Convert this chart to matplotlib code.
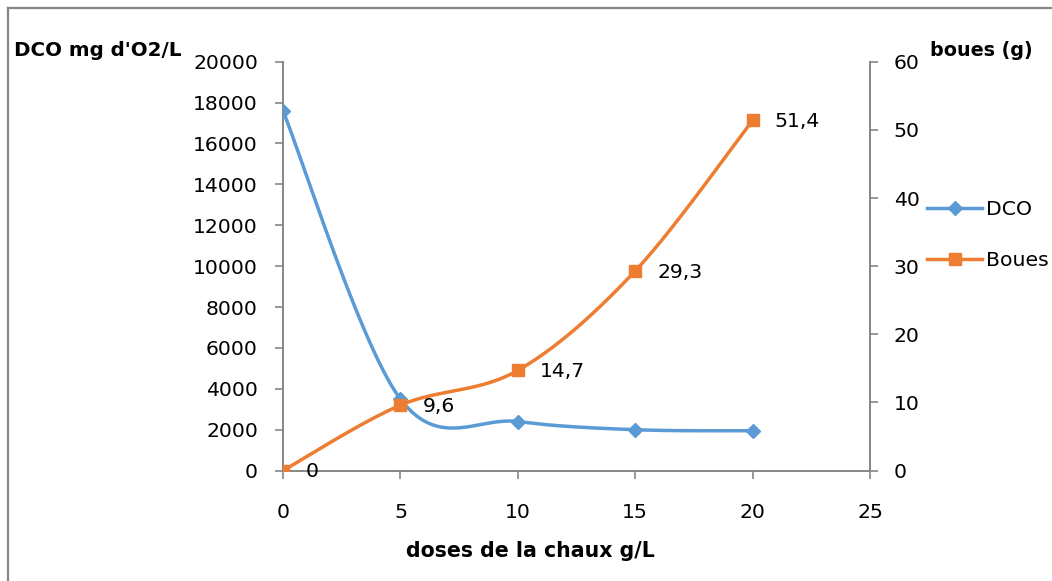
import numpy as np
import matplotlib
matplotlib.use("Agg")
import matplotlib.pyplot as plt
from matplotlib.lines import Line2D

plt.rcParams['font.family'] = ['DejaVu Sans']

# Data
doses = [0, 5, 10, 15, 20]
dco = [17600, 3500, 2400, 2000, 1950]
boues = [0, 9.6, 14.7, 29.3, 51.4]
boues_labels = ["0", "9,6", "14,7", "29,3", "51,4"]
left_ticks = [0, 2000, 4000, 6000, 8000, 10000, 12000, 14000, 16000, 18000, 20000]
right_ticks = [0, 10, 20, 30, 40, 50, 60]
x_ticks = [0, 5, 10, 15, 20, 25]

BLUE = "#5B9BD5"
ORANGE = "#ED7D31"
GRAY = "#868686"
FS = 14.7


def smooth(xs, ys, n=60):
    """Cubic Bezier smoothing through the points (Catmull-Rom style tangents)."""
    xs = np.asarray(xs, float)
    ys = np.asarray(ys, float)
    pts = np.column_stack([xs, ys])
    out = []
    for i in range(len(pts) - 1):
        p0 = pts[i - 1] if i > 0 else pts[i]
        p1 = pts[i]
        p2 = pts[i + 1]
        p3 = pts[i + 2] if i + 2 < len(pts) else pts[i + 1]
        c1 = p1 + (p2 - p0) / 6.0
        c2 = p2 - (p3 - p1) / 6.0
        t = np.linspace(0, 1, n)[:, None]
        seg = ((1 - t) ** 3) * p1 + 3 * ((1 - t) ** 2) * t * c1 + 3 * (1 - t) * t ** 2 * c2 + t ** 3 * p2
        out.append(seg if i == 0 else seg[1:])
    seg = np.vstack(out)
    return seg[:, 0], seg[:, 1]


fig = plt.figure(figsize=(10.52, 5.81), dpi=100)
ax = fig.add_axes([0.269, 0.190, 0.558, 0.7038])
ax2 = ax.twinx()

# Outer chart border (left and top edges visible)
fig.add_artist(Line2D([8 / 1052, 8 / 1052], [0, 1 - 8 / 581], transform=fig.transFigure,
                      color=GRAY, lw=1.6))
fig.add_artist(Line2D([8 / 1052, 1], [1 - 8 / 581, 1 - 8 / 581], transform=fig.transFigure,
                      color=GRAY, lw=1.6))

sx, sy = smooth(doses, dco)
ax.plot(sx, sy, color=BLUE, lw=2.5, zorder=3)
ax.plot(doses, dco, ls="none", marker="D", ms=7, color=BLUE, zorder=4)

bx, by = smooth(doses, boues)
ax2.plot(bx, by, color=ORANGE, lw=2.5, zorder=3)
ax2.plot(doses, boues, ls="none", marker="s", ms=8.5, color=ORANGE, zorder=4)

for x, y, lab in zip(doses, boues, boues_labels):
    ax2.annotate(lab, (x, y), xytext=(16, -1), textcoords="offset points",
                 ha="left", va="center", fontsize=FS, color="black")

ax.set_xlim(0, 25)
ax.set_ylim(0, 20000)
ax2.set_ylim(0, 60)
ax.set_xticks(x_ticks)
ax.set_yticks(left_ticks)
ax2.set_yticks(right_ticks)

for a in (ax, ax2):
    for s in a.spines.values():
        s.set_visible(False)
    a.tick_params(colors=GRAY, labelcolor="black", labelsize=FS, length=6, width=1.2)
ax.spines["left"].set_visible(True)
ax.spines["bottom"].set_visible(True)
ax2.spines["right"].set_visible(True)
for s in (ax.spines["left"], ax.spines["bottom"], ax2.spines["right"]):
    s.set_color(GRAY)
    s.set_linewidth(1.4)
ax.tick_params(axis="y", pad=12)
ax.tick_params(axis="x", pad=17.5)
ax2.tick_params(axis="y", pad=11)

fig.text(14 / 1052, 1 - 50 / 581, "DCO mg d'O2/L", fontsize=14.3, fontweight="bold",
         ha="left", va="center")
fig.text(930 / 1052, 1 - 50 / 581, "boues (g)", fontsize=13.8, fontweight="bold",
         ha="left", va="center")
fig.text(530 / 1052, 1 - 551 / 581, "doses de la chaux g/L", fontsize=14.8, fontweight="bold",
         ha="center", va="center")

handles = [
    Line2D([], [], color=BLUE, lw=2.5, marker="D", ms=7),
    Line2D([], [], color=ORANGE, lw=2.5, marker="s", ms=8.5),
]
fig.legend(handles, ["DCO", "Boues"], loc="upper left", bbox_to_anchor=(927 / 1052, 1 - 200 / 581),
           frameon=False, fontsize=FS, handlelength=2.7, handletextpad=0.2,
           labelspacing=1.55, borderaxespad=0, borderpad=0)

fig.savefig("out.png", dpi=100)
